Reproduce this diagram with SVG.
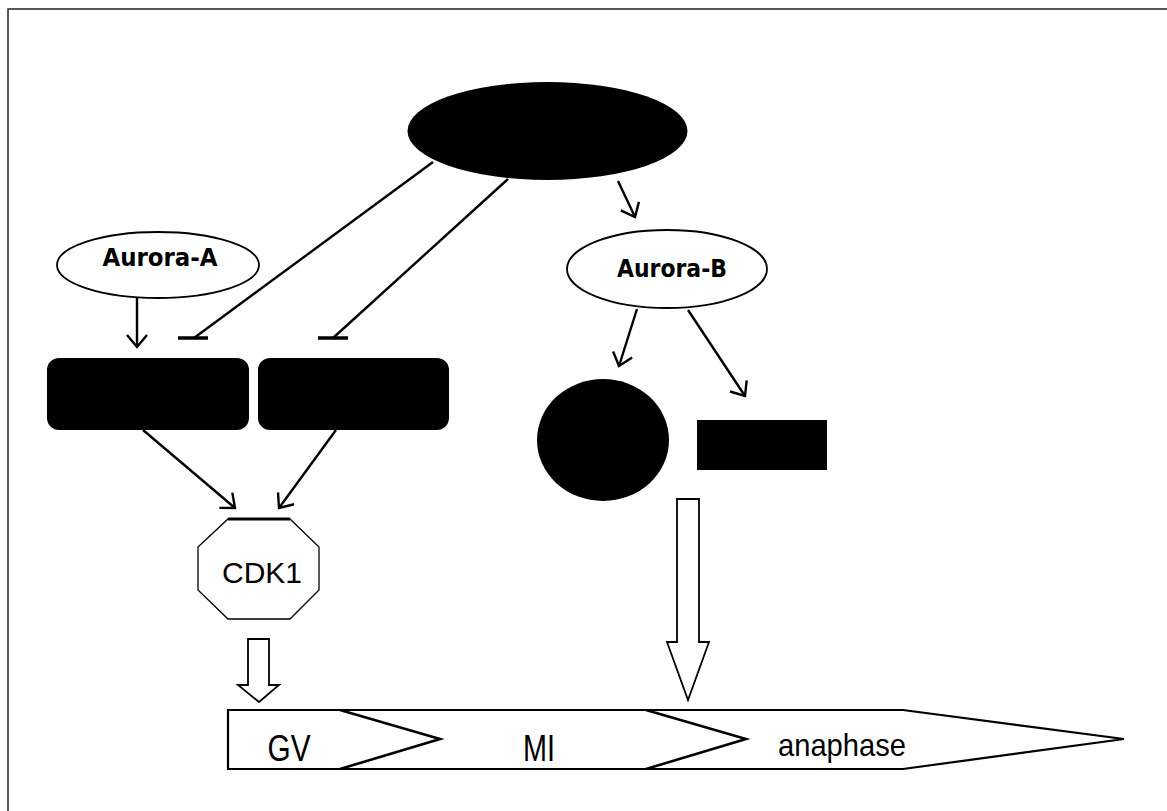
<svg xmlns="http://www.w3.org/2000/svg" width="1167" height="811" viewBox="0 0 1167 811">
<style>
.ln{stroke:#000;stroke-width:2.4;fill:none}
.arr{stroke:#000;stroke-width:2.4;fill:none;marker-end:url(#vh)}
.tb{stroke:#000;stroke-width:3.5;fill:none}
.blk{fill:#000}
.wht{fill:#fff;stroke:#000;stroke-width:1.8}
.bold{font-family:"DejaVu Sans","Liberation Sans",sans-serif;font-weight:bold;font-size:25px;text-anchor:middle}
.reg{font-family:"Liberation Sans",sans-serif;text-anchor:middle}
</style>
<defs>
<marker id="vh" viewBox="-14 -11 16 22" refX="0" refY="0" markerWidth="16" markerHeight="22" markerUnits="userSpaceOnUse" orient="auto">
<path d="M-12,-10 L0,0 L-12,10" fill="none" stroke="#000" stroke-width="2.4"/>
</marker>
</defs>
<rect width="1167" height="811" fill="#fff"/>
<path d="M8,811 L8,9 L1167,9" fill="none" stroke="#222" stroke-width="1.5"/>

<g id="connectors">
<line class="arr" x1="137" y1="298" x2="137" y2="347"/>
<line class="ln" x1="433" y1="162" x2="194" y2="338"/>
<line class="tb" x1="178" y1="338" x2="208" y2="338"/>
<line class="ln" x1="508" y1="179" x2="333" y2="338"/>
<line class="tb" x1="318" y1="338" x2="348" y2="338"/>
<line class="arr" x1="143" y1="430" x2="235" y2="508"/>
<line class="arr" x1="336" y1="430" x2="279" y2="508"/>
<line class="arr" x1="618" y1="181" x2="635" y2="217"/>
<line class="arr" x1="637" y1="309" x2="619" y2="366"/>
<line class="arr" x1="688" y1="310" x2="745" y2="396"/>
<polygon class="wht" stroke-width="2.2" points="248,639 269,639 269,685 279,685 259,702 238,685 248,685"/>
<polygon class="wht" stroke-width="2.2" points="677,499 699,499 699,642 709,642 688,700 667,642 677,642"/>
</g>

<g id="top-node"><ellipse class="blk" cx="547.5" cy="131" rx="140" ry="49"/></g>

<g id="aurora-a">
<ellipse class="wht" cx="158" cy="265" rx="101" ry="33"/>
<text class="bold" x="160" y="266" textLength="115" lengthAdjust="spacingAndGlyphs">Aurora-A</text>
</g>

<g id="aurora-b">
<ellipse class="wht" cx="667" cy="269" rx="100" ry="39"/>
<text class="bold" x="672" y="277" textLength="110" lengthAdjust="spacingAndGlyphs">Aurora-B</text>
</g>

<g id="box-1"><rect class="blk" x="47" y="358" width="202" height="72" rx="12"/></g>
<g id="box-2"><rect class="blk" x="258" y="358" width="191" height="72" rx="12"/></g>
<g id="circle-node"><ellipse class="blk" cx="603" cy="440" rx="66" ry="61"/></g>
<g id="rect-node"><rect class="blk" x="697" y="420" width="130" height="50"/></g>

<g id="cdk1">
<polygon fill="#fff" stroke="#000" stroke-width="1.3" points="228,519 290,519 319,547 319,590 290,619 228,619 198,590 198,547"/>
<line x1="228" y1="519" x2="290" y2="519" stroke="#000" stroke-width="3.2"/>
<text class="reg" x="262" y="583" font-size="30">CDK1</text>
</g>

<g id="timeline">
<polygon points="228,710 903,710 1124,739 903,769 228,769" fill="#fff" stroke="#000" stroke-width="2.2"/>
<polyline points="340,710 440,739 340,769" fill="none" stroke="#000" stroke-width="2.6"/>
<polyline points="646,710 746,739 646,769" fill="none" stroke="#000" stroke-width="2.6"/>
<text class="reg" x="289" y="761" font-size="36" textLength="43" lengthAdjust="spacingAndGlyphs">GV</text>
<text class="reg" x="539" y="761" font-size="36" textLength="32" lengthAdjust="spacingAndGlyphs">MI</text>
<text class="reg" x="842" y="756" font-size="32" textLength="128" lengthAdjust="spacingAndGlyphs">anaphase</text>
</g>
</svg>
